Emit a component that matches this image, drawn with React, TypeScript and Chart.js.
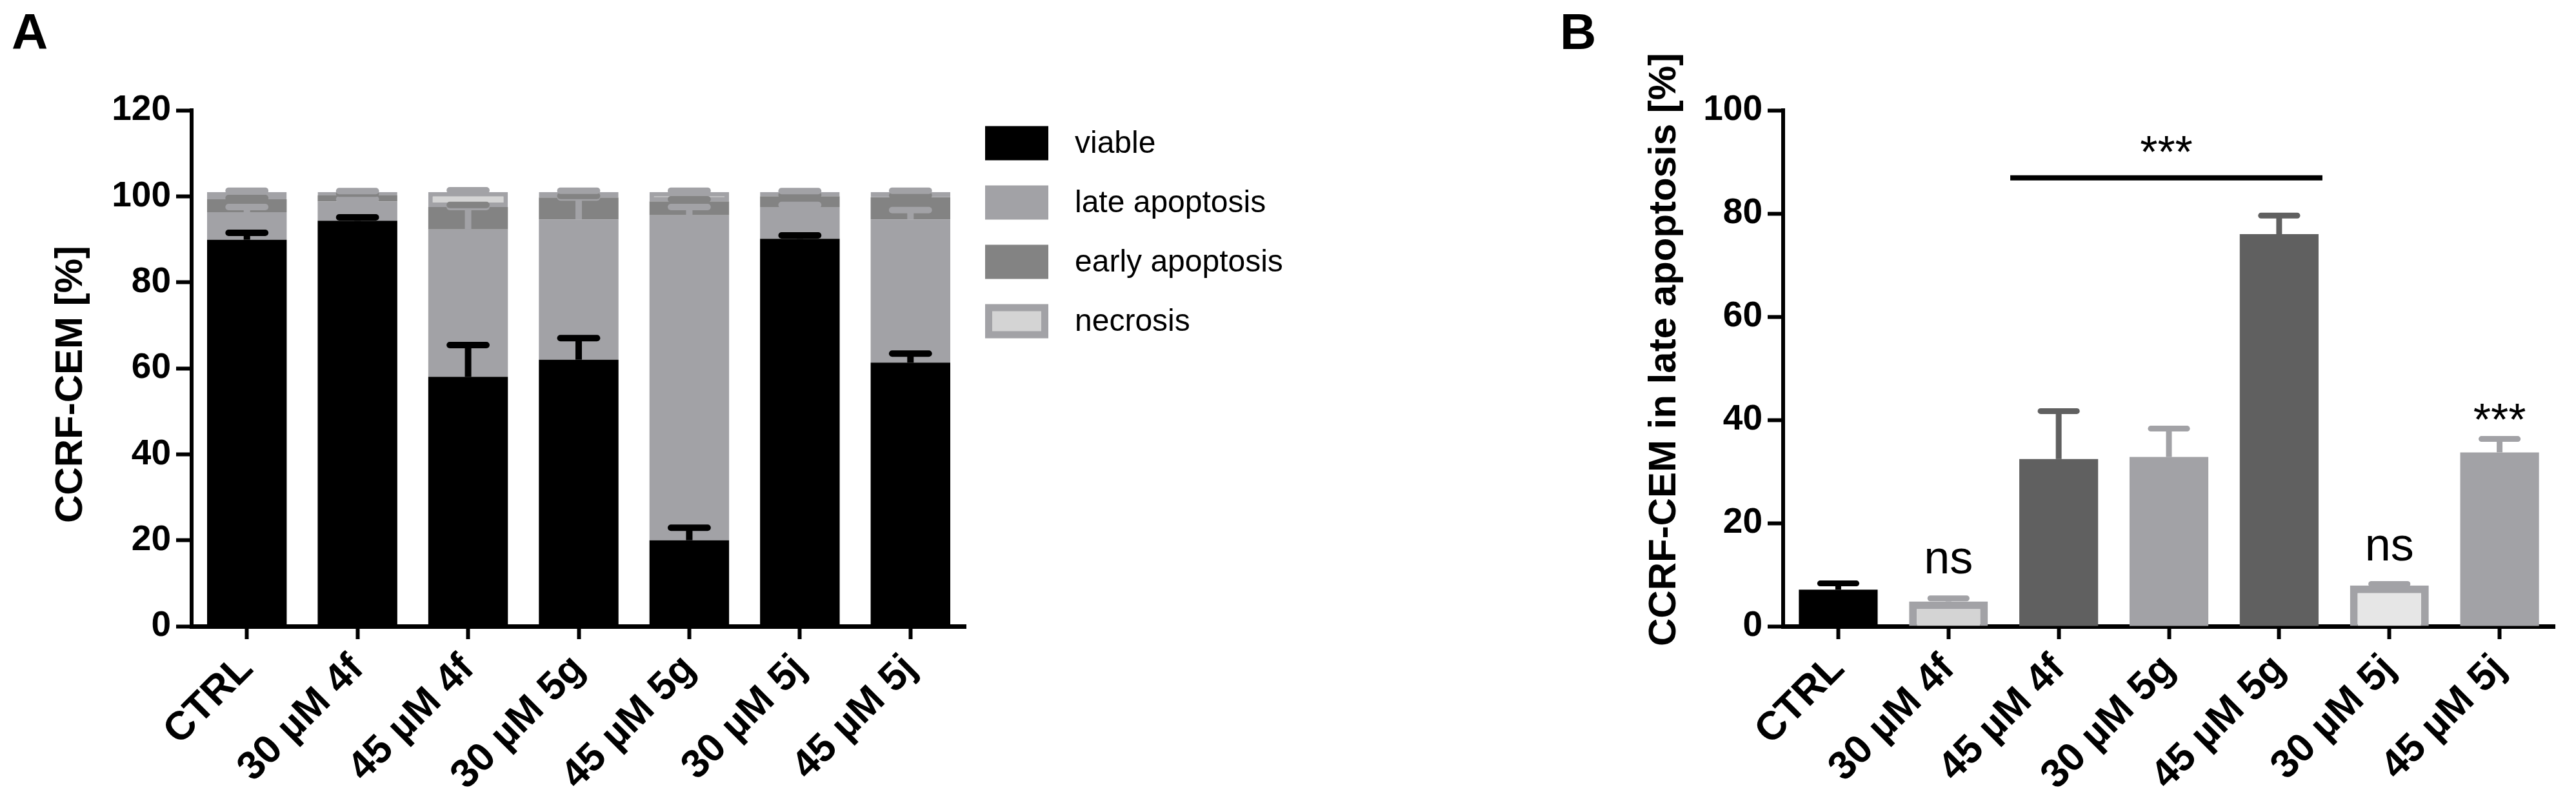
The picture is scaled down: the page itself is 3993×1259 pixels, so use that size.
import React, { useEffect, useRef } from 'react';
import { Chart, registerables } from 'chart.js';

Chart.register(...registerables);

// ---------------- data ----------------
const categories = ['CTRL', '30 µM 4f', '45 µM 4f', '30 µM 5g', '45 µM 5g', '30 µM 5j', '45 µM 5j'];

// Panel A (stacked, %)
const seriesNamesA = ['viable', 'late apoptosis', 'early apoptosis', 'necrosis'];
const viable = [89.9, 94.3, 58.0, 62.0, 20.0, 90.1, 61.3];
const viableSD = [1.6, 0.8, 7.4, 5.0, 2.9, 0.8, 2.1];
const lateApoptosis = [6.4, 4.5, 34.3, 32.6, 75.6, 7.4, 33.3];
const lateApoptosisSD = [1.2, 0.5, 5.2, 5.1, 1.9, 0.5, 2.2];
const earlyApoptosis = [3.0, 1.4, 5.2, 5.1, 3.2, 2.5, 5.2];
const earlyApoptosisSD = [0.3, 0.4, 0.5, 0.4, 0.5, 0.3, 0.4];
const necrosis = [1.7, 0.8, 3.5, 1.3, 2.2, 1.0, 1.2];
const necrosisSD = [0.3, 0.2, 0.4, 0.3, 0.3, 0.2, 0.3];
const yTicksA = { min: 0, max: 120, step: 20 };
const yTitleA = 'CCRF-CEM [%]';

// Panel B (late apoptosis, %)
const lateB = [7.1, 4.8, 32.4, 32.8, 76.0, 7.9, 33.7];
const lateBSD = [1.2, 0.6, 9.3, 5.5, 3.6, 0.3, 2.6];
const yTicksB = { min: 0, max: 100, step: 20 };
const yTitleB = 'CCRF-CEM in late apoptosis [%]';

// Panel B annotations
const nsIndex = [1, 5];
const nsBaseline = [10.2, 12.7];
const starIndex = [6];
const starBaseline = [37.0];
const bracketFrom = 2;
const bracketTo = 4;
const bracketValue = 86.9;
const bracketStarBaseline = 88.9;

// ---------------- styles ----------------
const FONT = "'Liberation Sans', Arial, Helvetica, sans-serif";
const C_BLACK = '#000000';
const C_LATE = '#a2a2a6';
const C_EARLY = '#838383';
const C_NEC_FILL = '#d4d4d4';
const C_GREY_BORDER = '#a2a2a6';
const C_DARK = '#606060';
const C_LIGHT2 = '#e6e6e6';

const H = 1259;
const TOP = 171;
const BOTTOM = 971;

const errorBarPlugin = {
  id: 'errorBars',
  afterDatasetsDraw(chart: any) {
    const ctx = chart.ctx;
    const y = chart.scales.y;
    const stacked = !!chart.options.scales.y.stacked;
    chart.data.datasets.forEach((ds: any, di: number) => {
      if (!ds.errors) return;
      const meta = chart.getDatasetMeta(di);
      meta.data.forEach((bar: any, j: number) => {
        let top = 0;
        if (stacked) {
          for (let k = 0; k <= di; k++) top += chart.data.datasets[k].data[j];
        } else top = ds.data[j];
        const yTop = y.getPixelForValue(top);
        const yErr = y.getPixelForValue(top + ds.errors[j]);
        const color = Array.isArray(ds.errorColor) ? ds.errorColor[j] : ds.errorColor;
        const w = ds.errorWidth || 10;
        ctx.save();
        ctx.strokeStyle = color;
        ctx.lineWidth = w;
        ctx.lineCap = 'butt';
        ctx.beginPath();
        ctx.moveTo(bar.x, yTop);
        ctx.lineTo(bar.x, yErr);
        ctx.stroke();
        const half = bar.width * 0.23;
        ctx.lineCap = 'round';
        ctx.beginPath();
        ctx.moveTo(bar.x - half, yErr);
        ctx.lineTo(bar.x + half, yErr);
        ctx.stroke();
        ctx.restore();
      });
    });
  },
};

const legendPluginA = {
  id: 'legendA',
  afterDraw(chart: any) {
    const ctx = chart.ctx;
    const boxX = 1527;
    const boxW = 98;
    const boxH = 53;
    const y0 = 222;
    const dy = 92;
    chart.data.datasets.forEach((ds: any, i: number) => {
      const cy = y0 + i * dy;
      ctx.save();
      if (ds.borderWidth && ds.borderWidth > 0) {
        ctx.fillStyle = ds.borderColor;
        ctx.fillRect(boxX, cy - boxH / 2, boxW, boxH);
        const b = 11;
        ctx.fillStyle = ds.backgroundColor;
        ctx.fillRect(boxX + b, cy - boxH / 2 + b, boxW - 2 * b, boxH - 2 * b);
      } else {
        ctx.fillStyle = ds.backgroundColor;
        ctx.fillRect(boxX, cy - boxH / 2, boxW, boxH);
      }
      ctx.fillStyle = '#000';
      ctx.font = `48px ${FONT}`;
      ctx.textAlign = 'left';
      ctx.textBaseline = 'middle';
      ctx.fillText(ds.label, 1666, cy + 2);
      ctx.restore();
    });
  },
};

function letterPlugin(letter: string, x: number) {
  return {
    id: 'letter' + letter,
    afterDraw(chart: any) {
      const ctx = chart.ctx;
      ctx.save();
      ctx.fillStyle = '#000';
      ctx.font = `bold 78px ${FONT}`;
      ctx.textAlign = 'left';
      ctx.textBaseline = 'alphabetic';
      ctx.fillText(letter, x, 76);
      ctx.restore();
    },
  };
}

// y-axis title drawn at the left of the y scale, centred at a given height
function yTitlePlugin(text: string, cx: number, cy: number) {
  return {
    id: 'yTitle',
    afterDraw(chart: any) {
      const ctx = chart.ctx;
      ctx.save();
      ctx.translate(cx, cy);
      ctx.rotate(-Math.PI / 2);
      ctx.fillStyle = '#000';
      ctx.font = `bold 60px ${FONT}`;
      ctx.textAlign = 'center';
      ctx.textBaseline = 'middle';
      ctx.fillText(text, 0, 0);
      ctx.restore();
    },
  };
}

const annotationPluginB = {
  id: 'annotB',
  afterDraw(chart: any) {
    const ctx = chart.ctx;
    const y = chart.scales.y;
    const meta = chart.getDatasetMeta(0);
    ctx.save();
    ctx.fillStyle = '#000';
    ctx.textAlign = 'center';
    ctx.textBaseline = 'alphabetic';
    ctx.font = `72px ${FONT}`;
    nsIndex.forEach((idx, k) => {
      const bar: any = meta.data[idx];
      ctx.fillText('ns', bar.x, y.getPixelForValue(nsBaseline[k]));
    });
    ctx.font = `70px ${FONT}`;
    starIndex.forEach((idx, k) => {
      const bar: any = meta.data[idx];
      ctx.fillText('***', bar.x, y.getPixelForValue(starBaseline[k]));
    });
    const b1: any = meta.data[bracketFrom];
    const b2: any = meta.data[bracketTo];
    const x1 = b1.x - b1.width / 2 - 14;
    const x2 = b2.x + b2.width / 2 + 6;
    const yl = y.getPixelForValue(bracketValue);
    ctx.strokeStyle = '#000';
    ctx.lineWidth = 8;
    ctx.beginPath();
    ctx.moveTo(x1, yl);
    ctx.lineTo(x2, yl);
    ctx.stroke();
    ctx.fillText('***', (x1 + x2) / 2, y.getPixelForValue(bracketStarBaseline));
    ctx.restore();
  },
};

function axisCommon(isX: boolean) {
  return {
    grid: {
      display: true,
      drawOnChartArea: false,
      drawTicks: true,
      tickLength: isX ? 20 : 24,
      tickWidth: 6,
      tickColor: '#000',
      offset: false,
    },
    border: { display: true, color: '#000', width: isX ? 7 : 6 },
  };
}

const xTickFont = { family: FONT, size: 62, weight: 'bold' };
const yTickFont = { family: FONT, size: 55, weight: 'bold' };

function makeConfigA(): any {
  return {
    type: 'bar',
    data: {
      labels: categories,
      datasets: [
        { label: seriesNamesA[0], data: viable, errors: viableSD, backgroundColor: C_BLACK, errorColor: C_BLACK, borderWidth: 0 },
        { label: seriesNamesA[1], data: lateApoptosis, errors: lateApoptosisSD, backgroundColor: C_LATE, errorColor: C_LATE, borderWidth: 0 },
        { label: seriesNamesA[2], data: earlyApoptosis, errors: earlyApoptosisSD, backgroundColor: C_EARLY, errorColor: C_EARLY, borderWidth: 0 },
        {
          label: seriesNamesA[3], data: necrosis, errors: necrosisSD, backgroundColor: C_NEC_FILL,
          borderColor: C_GREY_BORDER, borderWidth: 7, borderSkipped: false, errorColor: C_GREY_BORDER,
        },
      ],
    },
    options: {
      responsive: false,
      animation: false,
      devicePixelRatio: 1,
      layout: { padding: { left: 0, top: TOP, right: 2300 - 1497, bottom: 0 } },
      plugins: { legend: { display: false }, tooltip: { enabled: false }, title: { display: false } },
      datasets: { bar: { categoryPercentage: 1, barPercentage: 0.72 } },
      scales: {
        x: {
          stacked: true,
          ...axisCommon(true),
          ticks: { autoSkip: false, minRotation: 45, maxRotation: 45, padding: 10, color: '#000', font: xTickFont },
          afterFit: (s: any) => { s.height = H - BOTTOM; },
        },
        y: {
          stacked: true,
          min: yTicksA.min,
          max: yTicksA.max,
          ...axisCommon(false),
          ticks: { stepSize: yTicksA.step, padding: 8, color: '#000', font: yTickFont },
          afterFit: (s: any) => { s.width = 297; },
        },
      },
    },
    plugins: [errorBarPlugin, legendPluginA, letterPlugin('A', 18), yTitlePlugin(yTitleA, 110, 596)],
  };
}

function makeConfigB(): any {
  const fills = [C_BLACK, C_NEC_FILL, C_DARK, C_LATE, C_DARK, C_LIGHT2, C_LATE];
  const borders = [C_BLACK, C_GREY_BORDER, C_DARK, C_LATE, C_DARK, C_GREY_BORDER, C_LATE];
  const bw = [0, 12, 0, 0, 0, 12, 0];
  return {
    type: 'bar',
    data: {
      labels: categories,
      datasets: [
        {
          label: 'late apoptosis', data: lateB, errors: lateBSD, backgroundColor: fills,
          borderColor: borders, borderWidth: bw, borderSkipped: 'start', errorColor: borders, errorWidth: 9,
        },
      ],
    },
    options: {
      responsive: false,
      animation: false,
      devicePixelRatio: 1,
      layout: { padding: { left: 0, top: TOP, right: 1693 - 1660, bottom: 0 } },
      plugins: { legend: { display: false }, tooltip: { enabled: false }, title: { display: false } },
      datasets: { bar: { categoryPercentage: 1, barPercentage: 0.715 } },
      scales: {
        x: {
          ...axisCommon(true),
          ticks: { autoSkip: false, minRotation: 45, maxRotation: 45, padding: 10, color: '#000', font: xTickFont },
          afterFit: (s: any) => { s.height = H - BOTTOM; },
        },
        y: {
          min: yTicksB.min,
          max: yTicksB.max,
          ...axisCommon(false),
          ticks: { stepSize: yTicksB.step, padding: 8, color: '#000', font: yTickFont },
          afterFit: (s: any) => { s.width = 464; },
        },
      },
    },
    plugins: [errorBarPlugin, annotationPluginB, letterPlugin('B', 118), yTitlePlugin(yTitleB, 280, 542)],
  };
}

export default function App() {
  const refA = useRef<HTMLCanvasElement>(null);
  const refB = useRef<HTMLCanvasElement>(null);
  useEffect(() => {
    const a = new Chart(refA.current as HTMLCanvasElement, makeConfigA());
    const b = new Chart(refB.current as HTMLCanvasElement, makeConfigB());
    return () => {
      a.destroy();
      b.destroy();
    };
  }, []);
  return (
    <div style={{ position: 'absolute', left: 0, top: 0, width: 3993, height: H, background: '#fff', overflow: 'hidden' }}>
      <canvas ref={refA} width={2300} height={H} style={{ position: 'absolute', left: 0, top: 0, width: 2300, height: H }} />
      <canvas ref={refB} width={1693} height={H} style={{ position: 'absolute', left: 2300, top: 0, width: 1693, height: H }} />
    </div>
  );
}
